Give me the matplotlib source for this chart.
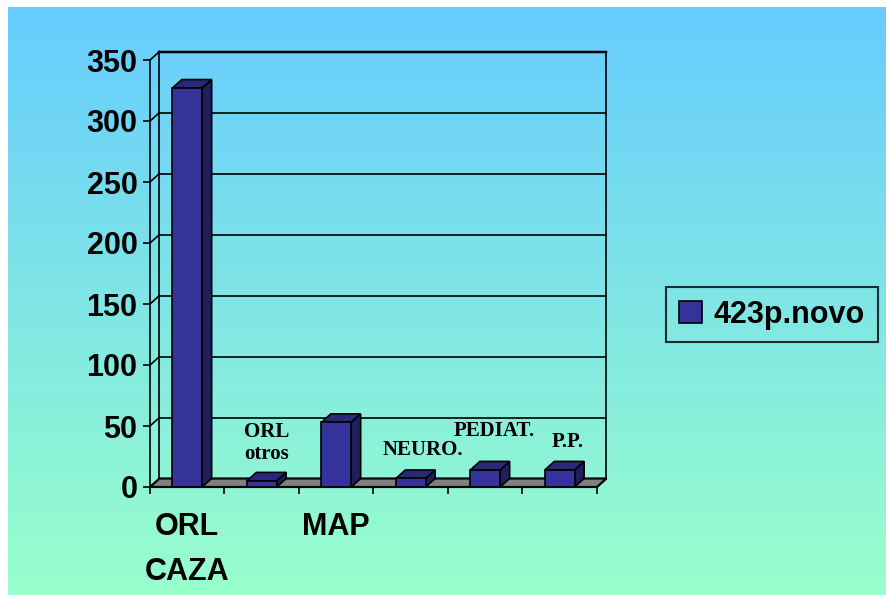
import matplotlib
matplotlib.use("Agg")
import matplotlib.pyplot as plt
import numpy as np
from matplotlib.patches import Polygon, Rectangle

# data
categories = ["ORL\nCAZA", "ORL\notros", "MAP", "NEURO.", "PEDIAT.", "P.P."]
axis_labels = ["ORL\nCAZA", "", "MAP", "", "", ""]
values = [327, 5, 53, 7, 14, 14]
series_name = "423p.novo"
yticks = [0, 50, 100, 150, 200, 250, 300, 350]

# labels written inside the plot (serif) and where they sit (category x, value y)
notes = ["ORL\notros", "NEURO.", "PEDIAT.", "P.P."]
note_x = [1.57, 3.66, 4.62, 5.60]
note_y = [36, 30, 46, 37]

plt.rcParams['font.family'] = ['Liberation Sans', 'DejaVu Sans']

W, H = 887, 595
fig = plt.figure(figsize=(W / 100, H / 100), dpi=100)
fig.patch.set_facecolor("white")

# gradient background
bg = fig.add_axes([8 / W, 0, 1 - 8 / W, 1 - 7 / H])
top = np.array([102, 204, 255]) / 255
bot = np.array([153, 255, 204]) / 255
t = np.linspace(0, 1, 256)[:, None]
grad = (top[None, :] * (1 - t) + bot[None, :] * t)[:, None, :]
bg.imshow(grad, aspect="auto", extent=[0, 1, 0, 1])
bg.set_axis_off()

# front plane of the 3d box
left_px, right_px, y0_px, ytop_px = 150, 597, 487, 60
ax = fig.add_axes([left_px / W, (H - y0_px) / H, (right_px - left_px) / W, (y0_px - ytop_px) / H])
ax.patch.set_alpha(0)
n = len(values)
ymax = 350
ax.set_xlim(0, n)
ax.set_ylim(0, ymax)

# depth offset in data units
DX = 9.5 * n / (right_px - left_px)
DY = 8.5 * ymax / (y0_px - ytop_px)
lw = 1.2

# walls and grid
for y in yticks:
    ax.plot([0, DX], [y, y + DY], color="black", lw=lw, clip_on=False, zorder=1)
    if y > 0:
        ax.plot([DX, n + DX], [y + DY, y + DY], color="black", lw=lw * (1.5 if y == ymax else 1),
                clip_on=False, zorder=1)
ax.plot([0, 0], [0, ymax], color="black", lw=lw, clip_on=False, zorder=1)
ax.plot([DX, DX], [DY, ymax + DY], color="black", lw=lw, clip_on=False, zorder=1)
ax.plot([n + DX, n + DX], [DY, ymax + DY], color="black", lw=lw, clip_on=False, zorder=1)

# floor
floor = Polygon([(0, 0), (n, 0), (n + DX, DY), (DX, DY)], closed=True,
                facecolor="#808080", edgecolor="black", lw=lw * 1.3, clip_on=False, zorder=2)
ax.add_patch(floor)

# bars
bw = 0.4
front_c, top_c, side_c = "#333399", "#29297a", "#1f1f5c"
xs = np.arange(n) + 0.5
bars = ax.bar(xs, values, width=bw, color=front_c, edgecolor="black", lw=lw, zorder=5, clip_on=False)
for x, v in zip(xs, values):
    x0, x1 = x - bw / 2, x + bw / 2
    side = Polygon([(x1, 0), (x1 + DX, DY), (x1 + DX, v + DY), (x1, v)], closed=True,
                   facecolor=side_c, edgecolor="black", lw=lw, clip_on=False, zorder=4)
    topf = Polygon([(x0, v), (x0 + DX, v + DY), (x1 + DX, v + DY), (x1, v)], closed=True,
                   facecolor=top_c, edgecolor="black", lw=lw, clip_on=False, zorder=4)
    ax.add_patch(side)
    ax.add_patch(topf)

# serif labels inside the chart
for s, x, y in zip(notes, note_x, note_y):
    ax.text(x, y, s, ha="center", va="center", family=["Liberation Serif", "DejaVu Serif"],
            fontweight="bold", fontsize=15, linespacing=1.15, zorder=6)

# axes ticks and labels
for sp in ax.spines.values():
    sp.set_visible(False)
ax.set_yticks(yticks)
ax.set_yticklabels([str(v) for v in yticks], fontsize=22, fontweight="bold")
ax.tick_params(axis="y", direction="out", length=5, width=lw, pad=4)
ax.set_xticks(np.arange(n + 1))
ax.set_xticklabels([])
ax.tick_params(axis="x", which="major", direction="out", length=5, width=lw)
ax.set_xticks(xs, minor=True)
ax.set_xticklabels(axis_labels, minor=True, fontsize=22, fontweight="bold", linespacing=1.65)
ax.tick_params(axis="x", which="minor", length=0, pad=18)

# legend
proxy = Rectangle((0, 0), 1, 1, facecolor=front_c, edgecolor="black", lw=lw)
leg = fig.legend([proxy], [series_name], loc="center left",
                 bbox_to_anchor=(666 / W, 1 - 314.5 / H),
                 prop={"size": 22, "weight": "bold"}, frameon=True, fancybox=False,
                 handlelength=0.75, handleheight=0.75, handletextpad=0.4,
                 borderpad=0.42, borderaxespad=0)
leg.get_frame().set_facecolor("none")
leg.get_frame().set_edgecolor("black")
leg.get_frame().set_linewidth(1.5)

fig.savefig("out.png", dpi=100)
